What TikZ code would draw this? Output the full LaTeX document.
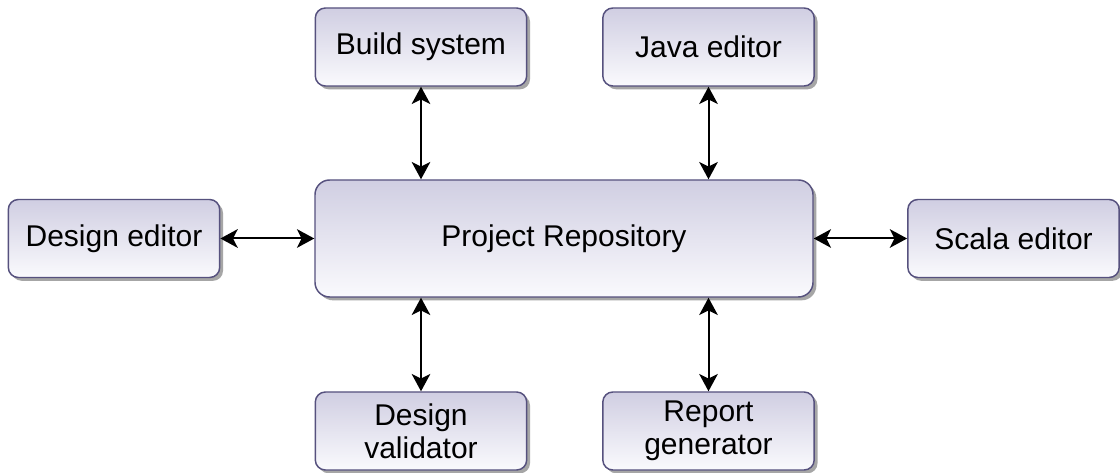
\documentclass[tikz,border=0pt]{standalone}
\usepackage{fontspec}
\setmainfont{Liberation Sans}
\usetikzlibrary{shadows,arrows.meta}
\definecolor{boxline}{HTML}{56517E}
\definecolor{boxtop}{HTML}{D0CEE2}
\definecolor{boxbottom}{HTML}{FAFAFD}
\tikzset{
  unit/.style={
    draw=boxline, line width=1.1pt, rounded corners=7.5pt,
    top color=boxtop, bottom color=boxbottom,
    drop shadow={shadow xshift=2.5pt, shadow yshift=-2.5pt, fill=black!35, opacity=1},
    minimum width=158.5pt, minimum height=58.5pt, inner sep=0pt,
    align=center, font=\fontsize{22.5pt}{24.75pt}\selectfont, text=black
  },
  hub/.style={unit, minimum width=373.5pt, minimum height=87.75pt, rounded corners=11pt},
  link/.style={line width=1.5pt, {Stealth[length=13pt,width=14pt,inset=3.5pt]}-{Stealth[length=13pt,width=14pt,inset=3.5pt]}}
}
\begin{document}
\begin{tikzpicture}[x=0.75pt,y=-0.75pt]
  \useasboundingbox[fill=white] (0,0) rectangle (1120,473);

  \node[hub]  (repo)   at (564,238.5) {Project Repository};
  \node[unit] (build)  at (421,47)    {Build system};
  \node[unit] (java)   at (708.5,47)  {Java editor};
  \node[unit] (design) at (114,238.5) {Design editor};
  \node[unit] (scala)  at (1013.5,238.5) {Scala editor};
  \node[unit] (valid)  at (421,431)   {Design\\validator};
  \node[unit] (report) at (708.5,431) {Report\\generator};

  \draw[link] (build.south) -- (build.south |- repo.north);
  \draw[link] (java.south)  -- (java.south |- repo.north);
  \draw[link] (valid.north) -- (valid.north |- repo.south);
  \draw[link] (report.north) -- (report.north |- repo.south);
  \draw[link] (design.east) -- (design.east -| repo.west);
  \draw[link] (repo.east)   -- (repo.east -| scala.west);
\end{tikzpicture}
\end{document}
